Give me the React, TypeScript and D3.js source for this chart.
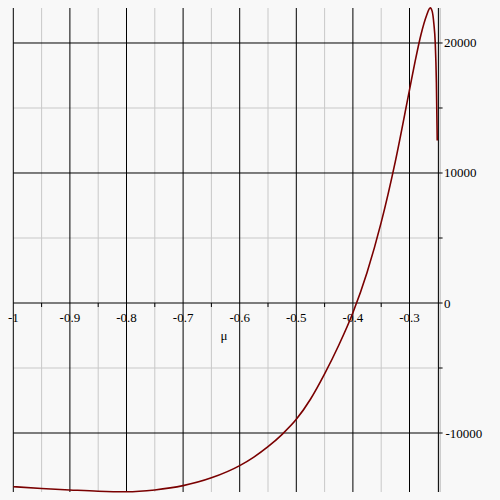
import React from "react";
import * as d3 from "d3";

const muValues = [-1, -0.95, -0.9, -0.85, -0.8, -0.75, -0.7, -0.65, -0.6, -0.575, -0.55, -0.525, -0.5, -0.475, -0.45, -0.425, -0.4, -0.375, -0.35, -0.325, -0.3, -0.29, -0.28, -0.27, -0.2633, -0.26, -0.257, -0.2545, -0.2525, -0.251];
const fValues = [-14130, -14270, -14380, -14480, -14520, -14380, -14050, -13450, -12510, -11850, -11050, -10100, -8950, -7400, -5450, -3250, -750, 2350, 6200, 10900, 16400, 18600, 20600, 22100, 22700, 22450, 21500, 20000, 17000, 12500];

const xMajorTicks = [-1, -0.9, -0.8, -0.7, -0.6, -0.5, -0.4, -0.3];
const xMinorTicks = [-0.95, -0.85, -0.75, -0.65, -0.55, -0.45, -0.35, -0.25];
const yMajorTicks = [-10000, 0, 10000, 20000];
const yMinorTicks = [-5000, 5000, 15000];
const xLabel = "μ";

export default function App() {
  const W = 500, H = 500;
  const x = d3.scaleLinear().domain([-1, -0.25]).range([13.3, 437.8]);
  const y = d3.scaleLinear().domain([-14538, 22692]).range([492, 8]);
  const top = 8, bottom = 492;
  const axisX = 438.6;
  const line = d3
    .line<number>()
    .x((_, i) => x(muValues[i]))
    .y((d) => y(d))
    .curve(d3.curveMonotoneX);
  const fontStyle = { fontFamily: "'Liberation Serif', 'Times New Roman', 'DejaVu Serif', serif", fontSize: "13px" };
  return (
    <svg width={W} height={H} style={{ position: "absolute", left: 0, top: 0, background: "#f8f8f8" }}>
      <rect x={0} y={0} width={W} height={H} fill="#f8f8f8" />
      {/* minor grid */}
      {xMinorTicks.map((t) => (
        <line key={"xm" + t} x1={x(t)} x2={x(t)} y1={top} y2={bottom} stroke="#c8c8c8" strokeWidth={1} />
      ))}
      <line x1={axisX + 1.8} x2={axisX + 1.8} y1={top} y2={bottom} stroke="#c8c8c8" strokeWidth={1} />
      {yMinorTicks.map((t) => (
        <line key={"ym" + t} x1={x(-1)} x2={axisX} y1={y(t)} y2={y(t)} stroke="#c8c8c8" strokeWidth={1} />
      ))}
      {/* major grid */}
      {xMajorTicks.map((t) => (
        <line key={"xM" + t} x1={x(t)} x2={x(t)} y1={top} y2={bottom} stroke="#000" strokeWidth={1} />
      ))}
      {yMajorTicks.map((t) => (
        <line key={"yM" + t} x1={x(-1)} x2={axisX} y1={y(t)} y2={y(t)} stroke="#000" strokeWidth={1} />
      ))}
      {/* axes */}
      <line x1={axisX} x2={axisX} y1={top} y2={bottom} stroke="#000" strokeWidth={1} />
      {xMinorTicks.slice(0, -1).map((t) => (
        <line key={"xt" + t} x1={x(t)} x2={x(t)} y1={y(0)} y2={y(0) + 4} stroke="#000" strokeWidth={1} />
      ))}
      {[...yMajorTicks, ...yMinorTicks].map((t) => (
        <line key={"yt" + t} x1={axisX} x2={axisX + 4} y1={y(t)} y2={y(t)} stroke="#000" strokeWidth={1} />
      ))}
      {/* labels */}
      {xMajorTicks.map((t) => (
        <text key={"xl" + t} x={x(t)} y={322} textAnchor="middle" style={fontStyle} fill="#000">
          {t === -1 ? "-1" : "-" + d3.format(".1f")(Math.abs(t))}
        </text>
      ))}
      {yMajorTicks.map((t) => (
        <text key={"yl" + t} x={t < 0 ? 445.5 : 444} y={y(t) + 4.5} textAnchor="start" style={fontStyle} fill="#000">
          {t < 0 ? "-" + Math.abs(t) : String(t)}
        </text>
      ))}
      <text x={224} y={339.5} textAnchor="middle" style={fontStyle} fill="#000">
        {xLabel}
      </text>
      {/* curve */}
      <path d={line(fValues) || ""} fill="none" stroke="#7a0000" strokeWidth={1.6} />
    </svg>
  );
}
